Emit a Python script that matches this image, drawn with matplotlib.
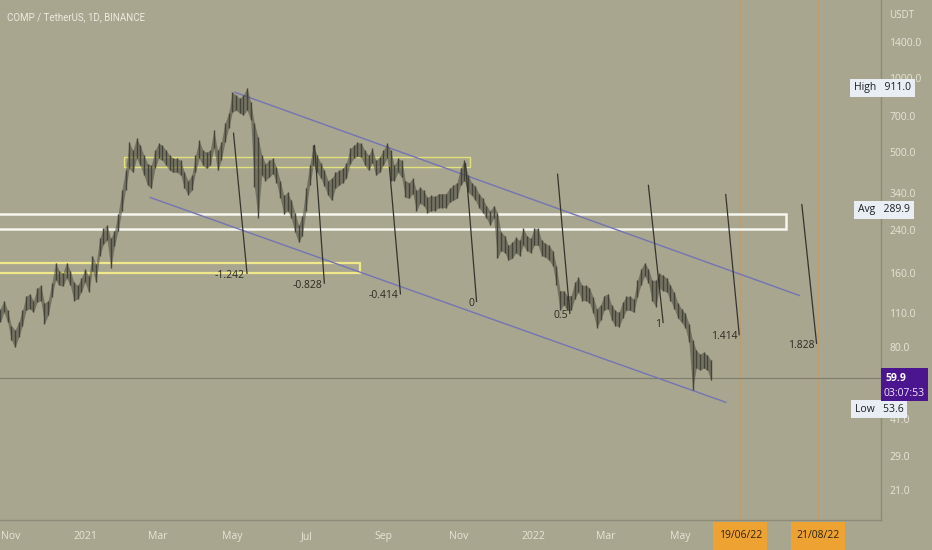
import matplotlib
matplotlib.use('Agg')
import matplotlib.pyplot as plt
import matplotlib.dates as mdates
import matplotlib.transforms as mtransforms
from matplotlib.patches import Rectangle
from matplotlib.ticker import NullLocator
import pandas as pd

plt.rcParams['font.family'] = ['Open Sans', 'DejaVu Sans']

# --- data (3-day bars, prices in USDT) ---
bar_start = '2020-10-24'
highs = [115, 124, 113, 98, 94, 101, 113, 129, 132, 124,
         139, 143, 121, 124, 146, 177, 164, 161, 177, 164,
         147, 143, 153, 167, 156, 189, 175, 222, 244, 251,
         222, 239, 280, 348, 420, 546, 507, 568, 531, 484,
         448, 440, 507, 541, 531, 507, 484, 470, 470, 461,
         412, 382, 401, 484, 557, 507, 498, 507, 612, 507,
         546, 653, 718, 874, 850, 826, 850, 911, 796, 653,
         573, 484, 448, 461, 470, 432, 382, 332, 342, 317,
         283, 251, 275, 355, 440, 531, 484, 452, 420, 382,
         390, 412, 420, 428, 452, 516, 531, 546, 541, 507,
         484, 516, 461, 475, 507, 541, 507, 440, 470, 461,
         382, 375, 390, 348, 358, 348, 326, 332, 329, 338,
         338, 338, 355, 365, 375, 428, 461, 401, 375, 362,
         338, 323, 302, 288, 302, 283, 235, 228, 208, 214,
         224, 218, 244, 228, 222, 244, 244, 218, 212, 208,
         198, 172, 136, 136, 130, 130, 147, 154, 143, 143,
         140, 128, 115, 119, 130, 132, 119, 113, 111, 122,
         129, 129, 126, 150, 167, 177, 167, 150, 150, 160,
         157, 153, 143, 134, 121, 115, 110, 100, 85.5, 78,
         75, 76.5, 74.5, 71]
lows = [101, 111, 101, 85.5, 80, 88, 98, 113, 115, 111,
        122, 124, 100, 108, 128, 150, 143, 142, 153, 143,
        124, 126, 134, 147, 134, 164, 147, 189, 210, 218,
        169, 206, 239, 288, 348, 428, 412, 470, 440, 401,
        365, 355, 428, 470, 461, 440, 420, 412, 412, 401,
        355, 335, 348, 412, 470, 440, 428, 440, 516, 420,
        461, 546, 624, 724, 738, 718, 705, 738, 672, 358,
        270, 401, 382, 393, 408, 375, 323, 280, 288, 268,
        235, 214, 228, 288, 365, 440, 412, 390, 362, 332,
        317, 355, 365, 375, 390, 448, 470, 479, 475, 440,
        420, 452, 401, 412, 440, 470, 382, 382, 412, 393,
        326, 323, 338, 288, 308, 302, 283, 288, 288, 296,
        296, 296, 311, 317, 323, 365, 382, 342, 332, 317,
        296, 283, 268, 251, 268, 184, 198, 194, 181, 184,
        194, 189, 208, 198, 194, 208, 208, 189, 186, 181,
        172, 143, 113, 119, 113, 113, 126, 134, 124, 124,
        121, 110, 96, 103, 113, 115, 103, 98, 97, 105,
        113, 113, 111, 128, 144, 156, 146, 124, 117, 139,
        136, 134, 124, 115, 105, 101, 96, 84, 53.6, 65.8,
        64.6, 65.8, 64.6, 58.8]

last_price = 59.9
countdown = '03:07:53'
stat_high, stat_avg, stat_low = 911.0, 289.9, 53.6

# channel lines (date, price)
upper_channel = (['2021-05-03', '2022-08-06'], [874, 130])
lower_channel = (['2021-02-23', '2022-06-07'], [326, 47.8])

# fib time lines: (top date, top price, bottom date, bottom price, label)
fib_lines = [
    ('2021-05-02', 595, '2021-05-13', 160, '-1.242'),
    ('2021-07-07', 531, '2021-07-15', 146, '-0.828'),
    ('2021-09-06', 432, '2021-09-15', 132, '-0.414'),
    ('2021-11-07', 448, '2021-11-16', 123, '0'),
    ('2022-01-21', 405, '2022-01-31', 110, '0.5'),
    ('2022-04-05', 365, '2022-04-17', 101, '1'),
    ('2022-06-07', 335, '2022-06-18', 90, '1.414'),
    ('2022-08-08', 305, '2022-08-20', 83, '1.828'),
]

# zones: (start date, end date, low price, high price)
zone_upper = ('2021-02-02', '2021-11-11', 432, 475)
zone_lower = ('2020-10-01', '2021-08-13', 160, 176)
zone_white = ('2020-10-01', '2022-07-26', 243, 280)

marked_dates = ['2022-06-19', '2022-08-21']
marked_labels = ['19/06/22', '21/08/22']

ytick_vals = [1400, 1000, 700, 500, 340, 240, 160, 110, 80, 41, 29, 21]
xtick_dates = ['2020-11-01', '2021-01-01', '2021-03-01', '2021-05-01', '2021-07-01',
               '2021-09-01', '2021-11-01', '2022-01-01', '2022-03-01', '2022-05-01']
xtick_labels = ['Nov', '2021', 'Mar', 'May', 'Jul', 'Sep', 'Nov', '2022', 'Mar', 'May']

BG = '#a8a68e'
BAR = '#44443a'
AXTXT = '#e6e6d8'

W, H = 932, 550
fig = plt.figure(figsize=(W / 100, H / 100), dpi=100)
fig.patch.set_facecolor(BG)
ax = fig.add_axes([0, 30 / H, 881 / W, 520 / H])
ax.set_facecolor(BG)
ax.set_yscale('log')
ax.set_ylim(15.85, 2075)
ax.set_xlim(pd.Timestamp('2020-10-23 18:00'), pd.Timestamp('2022-10-11 12:00'))

bar_dates = pd.date_range(bar_start, periods=len(highs), freq='3D')
ax.fill_between(bar_dates, lows, highs, color=BAR, alpha=0.5, lw=0, zorder=3)
ax.vlines(bar_dates, lows, highs, color=BAR, lw=1.0, zorder=3)

def zone(z, ec, lw):
    x0 = mdates.date2num(pd.Timestamp(z[0]))
    x1 = mdates.date2num(pd.Timestamp(z[1]))
    ax.add_patch(Rectangle((x0, z[2]), x1 - x0, z[3] - z[2], fc='none', ec=ec, lw=lw, zorder=2))

zone(zone_white, '#f6f6ee', 1.8)
zone(zone_lower, '#f0e68a', 1.6)
zone(zone_upper, '#e4e07c', 1.0)

for ch in (upper_channel, lower_channel):
    ax.plot(pd.to_datetime(ch[0]), ch[1], color='#7474b4', lw=1.0, zorder=2)

for d0, p0, d1, p1, lab in fib_lines:
    ax.plot(pd.to_datetime([d0, d1]), [p0, p1], color='#34342e', lw=0.9, zorder=4)
    ax.annotate(lab, xy=(pd.Timestamp(d1), p1), xytext=(-2, -2), textcoords='offset pixels',
                ha='right', va='center', fontsize=7.5, color='#2a2a24', zorder=5)

for d in marked_dates:
    ax.axvline(pd.Timestamp(d), color='#c89a60', lw=0.6, alpha=0.8, zorder=1)

ax.axhline(last_price, color='#7e7c6c', lw=0.8, zorder=1)

# axes styling
for s in ('top', 'left'):
    ax.spines[s].set_visible(False)
for s in ('right', 'bottom'):
    ax.spines[s].set_color('#8c8a78')
    ax.spines[s].set_linewidth(1.0)

ax.yaxis.tick_right()
ax.set_yticks(ytick_vals)
ax.set_yticklabels([f'{v:.1f}' for v in ytick_vals])
ax.yaxis.set_minor_locator(NullLocator())
ax.tick_params(axis='y', length=0, pad=6, labelsize=7.5, labelcolor=AXTXT)

ax.set_xticks(pd.to_datetime(xtick_dates))
ax.set_xticklabels(xtick_labels)
ax.tick_params(axis='x', length=0, pad=8, labelsize=7.5, labelcolor=AXTXT)

fig.text(7 / W, 1 - 17 / H, 'COMP / TetherUS, 1D, BINANCE', fontsize=7, color='#ecece0',
         ha='left', va='center', family=['Roboto', 'DejaVu Sans'])
fig.text(889 / W, 1 - 15 / H, 'USDT', fontsize=7, color=AXTXT, ha='left', va='center')

# price scale labels
blend = mtransforms.blended_transform_factory(fig.transFigure, ax.transData)
box = dict(boxstyle='square,pad=0.35', fc='#e8eef4', ec='none')
ax.text(854 / W, stat_high, f'High   {stat_high:.1f}', transform=blend, ha='left', va='center',
        fontsize=7.5, color='#1e1e1e', bbox=box, clip_on=False, zorder=10)
ax.text(858 / W, stat_avg, f'Avg   {stat_avg:.1f}', transform=blend, ha='left', va='center',
        fontsize=7.5, color='#1e1e1e', bbox=box, clip_on=False, zorder=10)
ax.annotate(f'Low   {stat_low:.1f}', xy=(855 / W, stat_low), xycoords=blend,
            xytext=(0, -19), textcoords='offset pixels', ha='left', va='center',
            fontsize=7.5, color='#1e1e1e', bbox=box, annotation_clip=False, zorder=10)

# last price tag
py = fig.transFigure.inverted().transform(ax.transData.transform((0, last_price)))[1]
fig.patches.append(Rectangle((881 / W, py - 23 / H), 47 / W, 33 / H, transform=fig.transFigure,
                             fc='#4c1590', ec='none', figure=fig))
fig.text(885 / W, py, f'{last_price:.1f}', fontsize=7.5, fontweight='bold', color='white',
         ha='left', va='center')
fig.text(883 / W, py - 15 / H, countdown, fontsize=7.5, color='#f0e8ff', ha='left', va='center')

# marked date tags
blend_x = mtransforms.blended_transform_factory(ax.transData, fig.transFigure)
for d, lab in zip(marked_dates, marked_labels):
    xc = mdates.date2num(pd.Timestamp(d))
    ax.add_patch(Rectangle((xc - 22, 0), 44, 28 / H, transform=blend_x, fc='#eea232',
                           ec='none', clip_on=False, zorder=10))
    ax.text(xc, 15 / H, lab, transform=blend_x, ha='center', va='center', fontsize=7.5,
            color='#2e2410', clip_on=False, zorder=11)

fig.savefig('out.png', dpi=100, facecolor=BG)
